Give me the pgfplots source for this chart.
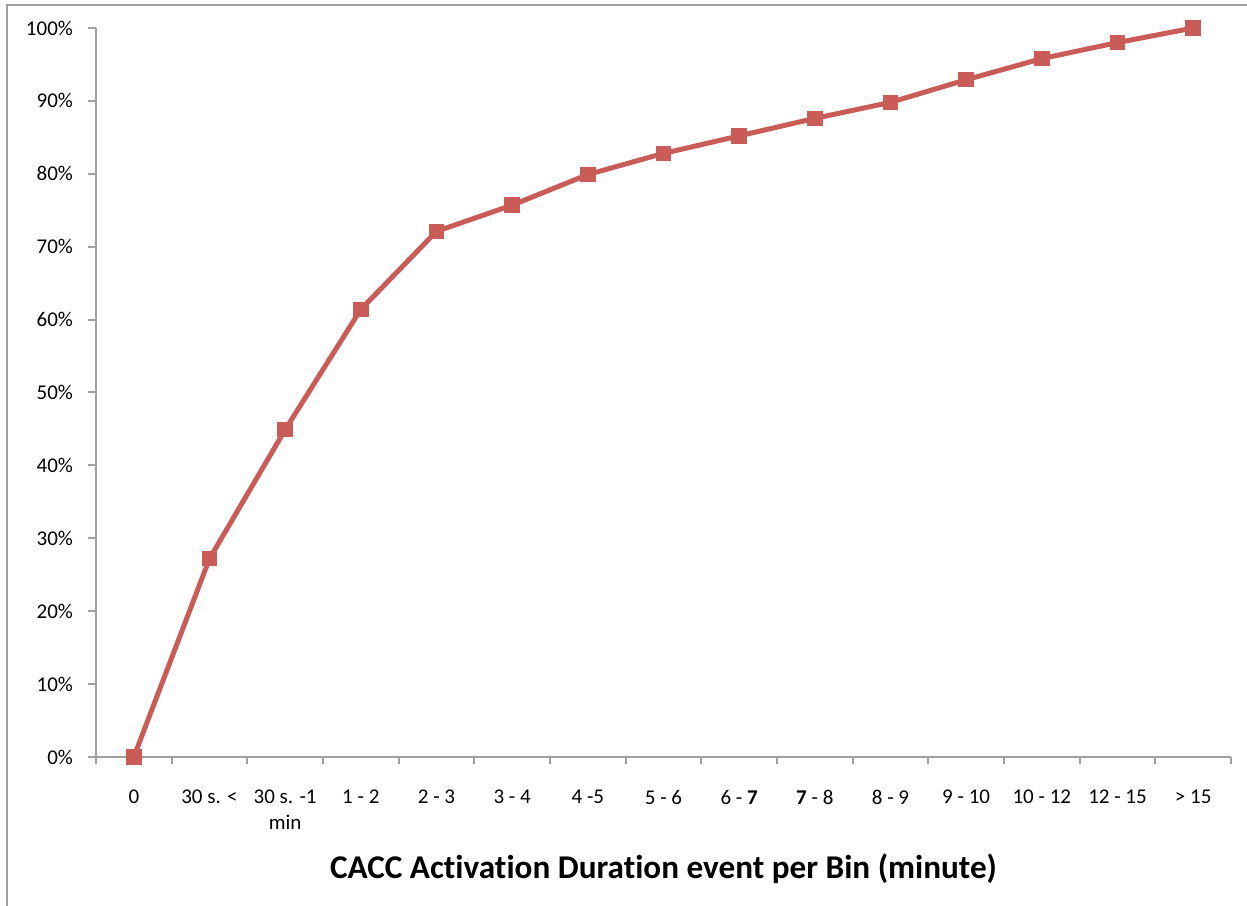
\documentclass[border=0pt]{standalone}
\usepackage{pgfplots}
\pgfplotsset{compat=1.18}
\usepackage{fontspec}
\setmainfont{Carlito}[Ligatures=NoCommon]
\definecolor{linered}{RGB}{202,92,87}
\definecolor{axgray}{RGB}{160,160,160}
\begin{document}
\begin{tikzpicture}
\useasboundingbox (0,0) rectangle (623.5pt,452.5pt);
\draw[axgray, line width=1.2pt] (3.5pt,-2pt) -- (3.5pt,450pt) -- (626pt,450pt);
\begin{axis}[
  at={(48pt,74pt)}, anchor=south west,
  scale only axis,
  width=567.5pt, height=364.5pt,
  xmin=-0.5, xmax=14.5, ymin=0, ymax=100,
  axis x line*=bottom, axis y line*=left,
  axis line style={axgray, line width=1pt, -},
  xtick={0,...,14},
  xticklabels={0, 30 s. <, {30 s. -1\\min}, 1 - 2, 2 - 3, 3 - 4, 4 -5, 5 - 6, 6 - \textbf{7}, \textbf{7} - 8, 8 - 9, 9 - 10, 10 - 12, 12 - 15, > 15},
  xticklabel style={align=center, font=\fontsize{10.5}{13}\selectfont, yshift=-9pt},
  major x tick style={draw=none},
  minor xtick={-0.5,0.5,...,14.5},
  minor tick length=3.5pt,
  minor x tick style={axgray, line width=1pt},
  ytick={0,10,...,100},
  yticklabel={\pgfmathprintnumber{\tick}\%},
  yticklabel style={font=\fontsize{10.5}{12}\selectfont, xshift=-4pt},
  major tick length=4pt,
  y tick style={axgray, line width=1pt},
  tick align=outside,
  /pgf/number format/assume math mode=true,
  xlabel={\textbf{CACC Activation Duration event per Bin (minute)}},
  xlabel style={at={(axis description cs:0.5,0)}, anchor=center, yshift=-56pt, font=\fontsize{16.6}{20}\selectfont},
  clip=false,
]
\addplot[linered, line width=2.5pt, mark=square*, mark size=3.6pt, mark options={line width=0pt, fill=linered}] coordinates {
(0,0) (1,27.2) (2,44.9) (3,61.4) (4,72.1) (5,75.7) (6,79.9) (7,82.8) (8,85.2) (9,87.6) (10,89.8) (11,92.9) (12,95.8) (13,98.0) (14,100)
};
\end{axis}
\end{tikzpicture}
\end{document}
